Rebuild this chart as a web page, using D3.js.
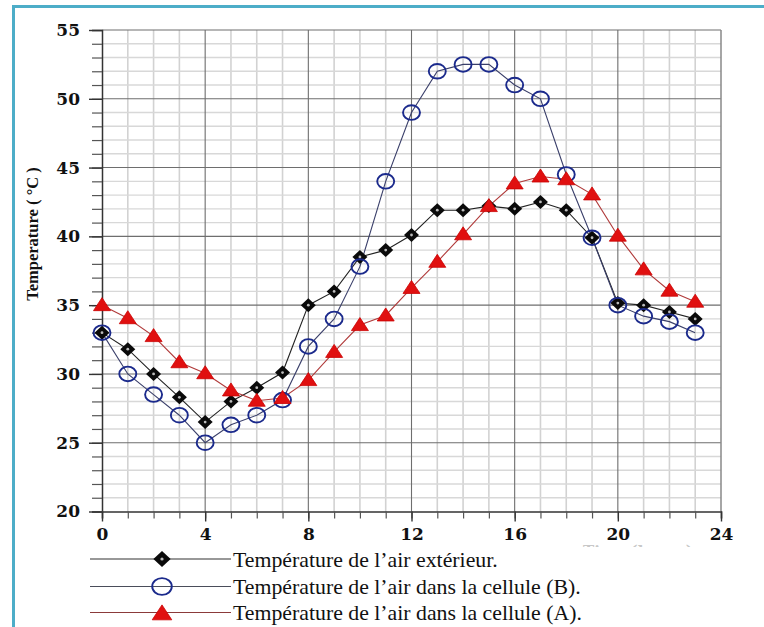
<!DOCTYPE html>
<html><head><meta charset="utf-8">
<script src="https://cdn.jsdelivr.net/npm/d3@7"></script>
<style>html,body{margin:0;padding:0;background:#fff;}svg{display:block;}</style>
</head><body>
<script>
const hours = d3.range(0, 24);
const exterieur = [33, 31.8, 30, 28.3, 26.5, 28, 29, 30.1, 35, 36, 38.5, 39, 40.1, 41.9, 41.9, 42.2, 42, 42.5, 41.9, 39.9, 35.15, 35, 34.5, 34];
const celluleB  = [33, 30, 28.5, 27, 25, 26.3, 27, 28.1, 32, 34, 37.8, 44, 49, 52, 52.5, 52.5, 51, 50, 44.5, 39.9, 35, 34.2, 33.8, 33];
const celluleA  = [35, 34.05, 32.75, 30.85, 30.05, 28.8, 28.05, 28.25, 29.55, 31.6, 33.55, 34.25, 36.25, 38.15, 40.15, 42.2, 43.85, 44.35, 44.15, 43.05, 40.05, 37.6, 36.05, 35.25];
const xTicks = [0, 4, 8, 12, 16, 20, 24];
const yTicks = [20, 25, 30, 35, 40, 45, 50, 55];
const legendLabels = ["Température de l’air extérieur.", "Température de l’air dans la cellule (B).", "Température de l’air dans la cellule (A)."];
const yTitle = "Temperature ( °C )";
const xTitle = "Time (hours)";

const SERIF = "'Liberation Serif', 'Times New Roman', Times, serif";
const W = 764, H = 627;
const svg = d3.select("body").append("svg").attr("width", W).attr("height", H);

// frame
svg.append("rect").attr("x", 13.5).attr("y", 6.5).attr("width", W + 20).attr("height", H + 20)
  .attr("fill", "none").attr("stroke", "#4dadc8").attr("stroke-width", 3);

const x = d3.scaleLinear().domain([0, 24]).range([102, 721]);
const y = d3.scaleLinear().domain([20, 55]).range([511.5, 30]);

const g = svg.append("g");
// minor grid
g.selectAll(".vmin").data(d3.range(1, 24).filter(d => d % 4)).enter().append("line")
  .attr("x1", d => x(d)).attr("x2", d => x(d)).attr("y1", y(55)).attr("y2", y(20))
  .attr("stroke", "#d2d2d2").attr("stroke-width", 1.6);
g.selectAll(".hmin").data(d3.range(21, 55).filter(d => d % 5)).enter().append("line")
  .attr("x1", x(0)).attr("x2", x(24)).attr("y1", d => y(d)).attr("y2", d => y(d))
  .attr("stroke", "#d8d8d8").attr("stroke-width", 1.4);
// major grid
g.selectAll(".vmaj").data(xTicks.filter(d => d > 0 && d < 24)).enter().append("line")
  .attr("x1", d => x(d)).attr("x2", d => x(d)).attr("y1", y(55)).attr("y2", y(20))
  .attr("stroke", "#6e6e6e").attr("stroke-width", 1.1);
g.selectAll(".hmaj").data(yTicks.filter(d => d > 20)).enter().append("line")
  .attr("x1", x(0)).attr("x2", x(24)).attr("y1", d => y(d)).attr("y2", d => y(d))
  .attr("stroke", "#6e6e6e").attr("stroke-width", 1.1);
// right border
g.append("line").attr("x1", x(24)).attr("x2", x(24)).attr("y1", y(55)).attr("y2", y(20))
  .attr("stroke", "#888").attr("stroke-width", 1.5);

// axes
const yAxisMinor = d3.axisLeft(y).tickValues(d3.range(20, 56)).tickSize(10).tickFormat("");
svg.append("g").attr("transform", `translate(${x(0)},0)`).call(yAxisMinor)
  .call(s => s.select(".domain").attr("stroke", "#333").attr("stroke-width", 1.5))
  .call(s => s.selectAll(".tick line").attr("stroke", "#555").attr("stroke-width", 1.2));
const yAxis = d3.axisLeft(y).tickValues(yTicks).tickSize(13).tickPadding(9).tickFormat(d3.format("d"));
svg.append("g").attr("transform", `translate(${x(0)},0)`).call(yAxis)
  .call(s => s.select(".domain").remove())
  .call(s => s.selectAll(".tick line").attr("stroke", "#333").attr("stroke-width", 1.4))
  .call(s => s.selectAll(".tick text").attr("font-family", "DejaVu Serif").attr("font-weight", "bold")
    .attr("font-size", 17).attr("fill", "#111"));

const xAxisMinor = d3.axisBottom(x).tickValues(d3.range(0, 25)).tickSize(7).tickFormat("");
svg.append("g").attr("transform", `translate(0,${y(20)})`).call(xAxisMinor)
  .call(s => s.select(".domain").attr("stroke", "#333").attr("stroke-width", 1.5))
  .call(s => s.selectAll(".tick line").attr("stroke", "#555").attr("stroke-width", 1.2));
const xAxis = d3.axisBottom(x).tickValues(xTicks).tickSize(10).tickPadding(6).tickFormat(d3.format("d"));
svg.append("g").attr("transform", `translate(0,${y(20)})`).call(xAxis)
  .call(s => s.select(".domain").remove())
  .call(s => s.selectAll(".tick line").attr("stroke", "#333").attr("stroke-width", 1.4))
  .call(s => s.selectAll(".tick text").attr("font-family", "DejaVu Serif").attr("font-weight", "bold")
    .attr("font-size", 17).attr("fill", "#111"));

// faint x title (mostly hidden)
svg.append("defs").append("clipPath").attr("id", "xtc").append("rect")
  .attr("x", 560).attr("y", 540).attr("width", 160).attr("height", 7);
svg.append("text").attr("x", 638).attr("y", 556).attr("text-anchor", "middle")
  .attr("clip-path", "url(#xtc)").attr("font-family", "DejaVu Serif").attr("font-weight", "bold")
  .attr("font-size", 15).attr("fill", "#c8c8c8").text(xTitle);

// y title
svg.append("text").attr("transform", `translate(38,${234}) rotate(-90)`).attr("text-anchor", "middle")
  .attr("font-family", SERIF).attr("font-weight", "bold").attr("font-size", 16.5)
  .attr("fill", "#111").text(yTitle);

// series
const series = [
  {vals: exterieur, line: "#222", marker: "diamond"},
  {vals: celluleB, line: "#3a3f6a", marker: "circle"},
  {vals: celluleA, line: "#b03a3a", marker: "triangle"}
];
const lineGen = d3.line().x((d, i) => x(hours[i])).y(d => y(d));

function drawMarker(sel, type, scale) {
  const s = scale || 1;
  if (type === "diamond") {
    sel.append("path").attr("d", `M0,${-7*s}L${7.5*s},0L0,${7*s}L${-7.5*s},0Z`).attr("fill", "#0a0a0a");
    sel.append("circle").attr("r", 1.4*s).attr("fill", "#bbb");
  } else if (type === "circle") {
    sel.append("ellipse").attr("rx", 8.5*s).attr("ry", 7.3*s).attr("fill", "none")
      .attr("stroke", "#1b2a8c").attr("stroke-width", 1.9);
  } else {
    sel.append("path").attr("d", `M0,${-7.5*s}L${8.5*s},${5.5*s}L${-8.5*s},${5.5*s}Z`)
      .attr("fill", "#e01010").attr("stroke", "#c00").attr("stroke-width", 0.8);
  }
}

series.forEach(s => {
  svg.append("path").datum(s.vals).attr("d", lineGen).attr("fill", "none")
    .attr("stroke", s.line).attr("stroke-width", 1.1);
});
series.forEach(s => {
  const m = svg.append("g").selectAll("g").data(s.vals).enter().append("g")
    .attr("transform", (d, i) => `translate(${x(hours[i])},${y(d)})`);
  m.each(function() { drawMarker(d3.select(this), s.marker, 1); });
});

// legend
const legY = [559, 586.5, 612.5];
const legColors = ["#333", "#4a4d5a", "#8b3a3a"];
legendLabels.forEach((t, i) => {
  const lg = svg.append("g");
  lg.append("line").attr("x1", 90).attr("x2", 231).attr("y1", legY[i]).attr("y2", legY[i])
    .attr("stroke", legColors[i]).attr("stroke-width", 1.1);
  const mk = lg.append("g").attr("transform", `translate(162,${legY[i] + (i === 2 ? 1 : 0)})`);
  drawMarker(mk, series[i].marker, 1.15);
  lg.append("text").attr("x", 233).attr("y", legY[i] + 7.5).attr("font-family", SERIF)
    .attr("font-size", 21.8).attr("fill", "#111").text(t);
});
</script>
</body></html>
